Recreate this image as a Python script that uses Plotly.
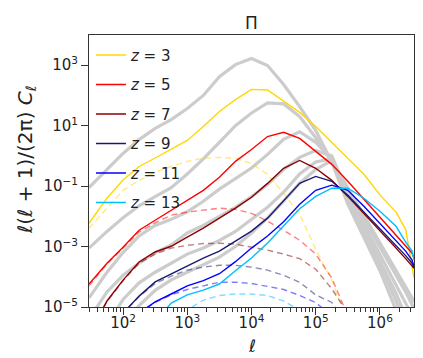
import numpy as np
import plotly.graph_objects as go

# log10(ell) grid shared by every curve
log_ell = [1.47, 1.75, 2.0, 2.25, 2.5, 2.75, 3.0, 3.25, 3.5, 3.75, 4.0, 4.25,
           4.5, 4.75, 5.0, 5.25, 5.5, 5.75, 6.0, 6.25, 6.4, 6.5, 6.53]

z_labels = ["3", "5", "7", "9", "11", "13"]
colors = ["#ffd700", "#ff0000", "#8b0000", "#191970", "#0000ff", "#00bfff"]

# log10 of l(l+1)/(2pi) C_l
solid = {
    "3":  [-2.23, -1.40, -0.80, -0.35, -0.07, 0.21, 0.51, 0.97, 1.47, 1.86, 2.20, 2.18,
           1.80, 1.44, 0.97, 0.45, -0.08, -0.61, -1.29, -1.86, -2.43, -3.61, -4.04],
    "5":  [-4.24, -3.55, -3.02, -2.46, -2.13, -1.80, -1.47, -1.14, -0.71, -0.18, 0.21, 0.64,
           0.78, 0.58, 0.15, -0.28, -0.84, -1.44, -2.03, -2.62, -2.98, -3.22, -3.38],
    "7":  [-5.9, -4.80, -4.11, -3.51, -3.18, -2.99, -2.69, -2.39, -2.06, -1.73, -1.37, -0.91,
           -0.41, -0.15, -0.41, -0.81, -1.34, -1.90, -2.46, -3.05, -3.40, -3.65, -3.72],
    "9":  [-6.5, -6.0, -5.2, -4.64, -4.17, -3.91, -3.65, -3.38, -3.15, -2.82, -2.49, -2.06,
           -1.50, -0.91, -0.68, -0.84, -1.30, -1.86, -2.39, -2.95, -3.30, -3.55, -3.71],
    "11": [-7, -6.5, -6.0, -5.2, -4.83, -4.57, -4.30, -4.13, -3.90, -3.50, -3.05, -2.65,
           -2.18, -1.60, -1.14, -0.97, -1.14, -1.67, -2.23, -2.79, -3.15, -3.45, -3.65],
    "13": [-7, -7, -7, -6.5, -5.5, -4.87, -4.60, -4.44, -4.24, -3.80, -3.38, -2.88,
           -2.32, -1.75, -1.34, -1.07, -1.07, -1.40, -1.83, -2.33, -2.85, -3.15, -3.45],
}

dashed = {
    "3":  [-2.39, -1.73, -1.14, -0.81, -0.54, -0.35, -0.18, -0.08, -0.05, -0.08, -0.25, -0.61,
           -1.24, -1.93, -3.09, -4.11, -5.5, -7, -7, -7, -7, -7, -7],
    "5":  [-4.30, -3.58, -3.05, -2.52, -2.22, -1.96, -1.86, -1.80, -1.73, -1.77, -1.90, -2.16,
           -2.46, -2.79, -3.25, -4.04, -5.3, -7, -7, -7, -7, -7, -7],
    "7":  [-5.9, -4.82, -4.13, -3.55, -3.25, -3.05, -2.96, -2.90, -2.89, -2.92, -3.02, -3.12,
           -3.25, -3.40, -3.75, -4.40, -5.2, -7, -7, -7, -7, -7, -7],
    "9":  [-6.5, -6.0, -5.2, -4.66, -4.22, -3.98, -3.78, -3.68, -3.62, -3.62, -3.68, -3.78,
           -3.95, -4.18, -4.60, -4.85, -5.6, -7, -7, -7, -7, -7, -7],
    "11": [-7, -7, -7, -5.2, -4.85, -4.60, -4.42, -4.30, -4.18, -4.18, -4.22, -4.32,
           -4.42, -4.62, -4.85, -5.3, -7, -7, -7, -7, -7, -7, -7],
    "13": [-7, -7, -7, -7, -7, -5.5, -5.1, -4.77, -4.62, -4.57, -4.57, -4.62,
           -4.80, -5.1, -6, -7, -7, -7, -7, -7, -7, -7, -7],
}

gray = {
    "3":  [-1.05, -0.45, 0.08, 0.54, 0.91, 1.20, 1.57, 2.0, 2.62, 3.02, 3.22, 2.99,
           2.36, 1.63, 0.84, -0.2, -1.6, -2.7, -3.8, -5.1, -6, -7, -7],
    "5":  [-3.05, -2.5, -2.05, -1.65, -1.35, -1.05, -0.6, -0.1, 0.45, 1.0, 1.42, 1.75,
           1.72, 1.30, 0.6, -0.2, -1.5, -2.55, -3.6, -4.8, -5.6, -6.5, -7],
    "7":  [-4.7, -3.85, -3.2, -2.65, -2.3, -2.1, -1.85, -1.5, -1.1, -0.75, -0.4, 0.05,
           0.55, 0.80, 0.45, -0.1, -1.4, -2.4, -3.45, -4.55, -5.3, -6, -6.5],
    "9":  [-5.4, -4.5, -3.95, -3.55, -3.2, -2.95, -2.55, -2.3, -2.0, -1.7, -1.35, -0.95,
           -0.45, -0.05, 0.18, 0.0, -1.25, -2.25, -3.2, -4.2, -4.8, -5.2, -5.4],
    "11": [-7, -5.6, -4.75, -4.2, -3.85, -3.55, -3.25, -3.05, -2.8, -2.5, -2.1, -1.7,
           -1.2, -0.6, -0.2, -0.1, -1.15, -2.1, -3.0, -3.95, -4.5, -4.9, -5.05],
    "13": [-7, -7, -5.6, -4.95, -4.45, -4.1, -3.85, -3.6, -3.35, -3.0, -2.55, -2.05,
           -1.5, -0.9, -0.45, -0.15, -1.05, -1.95, -2.85, -3.75, -4.3, -4.7, -4.85],
}

ell = 10 ** np.array(log_ell)

fig = go.Figure()

for z in z_labels:
    fig.add_trace(go.Scatter(x=ell, y=10 ** np.array(gray[z]), mode="lines",
                             line=dict(color="#cccccc", width=3.2),
                             showlegend=False, hoverinfo="skip"))

for z, c in zip(z_labels, colors):
    fig.add_trace(go.Scatter(x=ell, y=10 ** np.array(dashed[z]), mode="lines",
                             line=dict(color=c, width=1.4, dash="6px,4px"),
                             opacity=0.5, showlegend=False, hoverinfo="skip"))

for i, (z, c) in enumerate(zip(z_labels, colors)):
    fig.add_trace(go.Scatter(x=ell, y=10 ** np.array(solid[z]), mode="lines",
                             line=dict(color=c, width=1.4),
                             name=f"<i>z</i> = {z}", legendgroup=f"g{i}"))

minor_x = [m * 10 ** k for k in range(1, 7) for m in range(2, 10)]

fig.update_layout(
    width=423, height=358,
    margin=dict(l=81, r=17, t=27, b=59),
    paper_bgcolor="white", plot_bgcolor="white",
    font=dict(family="DejaVu Sans", size=15, color="#222"),
    title=dict(text="Π", x=0.5, xref="paper", y=1 - 15 / 358, yref="container",
               xanchor="center", yanchor="middle", font=dict(size=17)),
    showlegend=True,
    legend=dict(x=0.006, y=0.986, xanchor="left", yanchor="top", bgcolor="rgba(0,0,0,0)",
                font=dict(size=15), tracegroupgap=7),
    xaxis=dict(type="log", range=[1.47, 6.53], showgrid=False, zeroline=False,
               showline=True, mirror=True, linecolor="#333", linewidth=1,
               ticks="outside", ticklen=7, tickcolor="#333", ticklabelstandoff=-5,
               tickvals=[1e2, 1e3, 1e4, 1e5, 1e6],
               ticktext=["10<sup>2</sup>", "10<sup>3</sup>", "10<sup>4</sup>",
                         "10<sup>5</sup>", "10<sup>6</sup>"],
               minor=dict(tickvals=minor_x, ticks="outside", ticklen=4,
                          tickcolor="#333", showgrid=False)),
    yaxis=dict(type="log", range=[-5, 4], showgrid=False, zeroline=False,
               showline=True, mirror=True, linecolor="#333", linewidth=1,
               ticks="outside", ticklen=7, tickcolor="#333",
               tickvals=[1e-5, 1e-3, 1e-1, 1e1, 1e3],
               ticktext=["10<sup>−5</sup>", "10<sup>−3</sup>", "10<sup>−1</sup>",
                         "10<sup>1</sup>", "10<sup>3</sup>"]),
)

fig.add_annotation(text="ℓ(ℓ + 1)/(2π) <i>C</i><sub>ℓ</sub>", textangle=-90,
                   xref="paper", yref="paper", x=(18 - 81) / 325, y=(299 - 152) / 272,
                   xanchor="center", yanchor="middle", showarrow=False,
                   font=dict(size=20))
fig.add_annotation(text="ℓ", xref="paper", yref="paper", x=0.5, y=(299 - 338) / 272,
                   xanchor="center", yanchor="middle", showarrow=False,
                   font=dict(size=17))

fig.write_html("out.html")
